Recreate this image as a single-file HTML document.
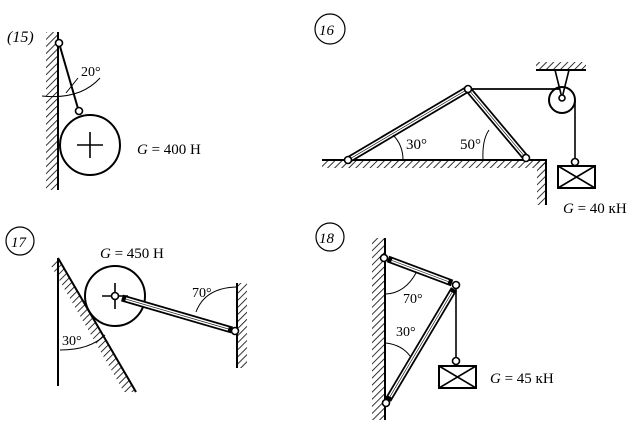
<!DOCTYPE html>
<html><head><meta charset="utf-8"><style>
html,body{margin:0;padding:0;background:#fff;}
svg{display:block;}
text{font-family:"Liberation Serif",serif;fill:#000;}
</style></head><body>
<svg width="643" height="430" viewBox="0 0 643 430" xmlns="http://www.w3.org/2000/svg">
<defs>
<pattern id="h" width="5" height="5" patternUnits="userSpaceOnUse" patternTransform="rotate(45)">
<line x1="0" y1="0" x2="0" y2="5" stroke="#000" stroke-width="1.6"/>
</pattern>
</defs>
<g stroke="#000" fill="none" stroke-width="1.6">
<!-- 15 -->
<rect x="46" y="32" width="12" height="158" fill="url(#h)" stroke="none"/>
<line x1="58" y1="32" x2="58" y2="190" stroke-width="2"/>
<line x1="59" y1="43" x2="79" y2="112" stroke-width="2"/>
<circle cx="90" cy="145" r="30" stroke-width="2"/>
<line x1="77" y1="145" x2="103" y2="145"/><line x1="90" y1="132" x2="90" y2="158"/>
<path d="M42 96 Q80 100 100 78" stroke-width="1"/>
<line x1="66" y1="93" x2="78" y2="78" stroke-width="1"/>
<circle cx="59" cy="43" r="3.5" fill="#fff"/>
<circle cx="79" cy="111" r="3.5" fill="#fff"/>
<!-- 16 -->
<circle cx="330" cy="29" r="15" stroke-width="1.2"/>
<rect x="322" y="160" width="225" height="8" fill="url(#h)" stroke="none"/>
<rect x="537" y="160" width="9" height="45" fill="url(#h)" stroke="none"/>
<polyline points="322,160 546,160 546,205" stroke-width="2"/>
<line x1="348" y1="160" x2="468" y2="89" stroke-width="7"/>
<line x1="351.4" y1="158" x2="464.6" y2="91" stroke="#fff" stroke-width="3.5"/>
<line x1="351.4" y1="158" x2="464.6" y2="91" stroke-width="0.6"/>
<line x1="468" y1="89" x2="526" y2="158" stroke-width="7"/>
<line x1="470.6" y1="92.1" x2="523.4" y2="154.9" stroke="#fff" stroke-width="3.5"/>
<line x1="470.6" y1="92.1" x2="523.4" y2="154.9" stroke-width="0.6"/>
<line x1="468" y1="89" x2="560" y2="89" stroke-width="1.8"/>
<rect x="536" y="62" width="50" height="8" fill="url(#h)" stroke="none"/>
<line x1="536" y1="70" x2="586" y2="70" stroke-width="2"/>
<path d="M555 70 L562 98 L569 70"/>
<circle cx="562" cy="100" r="13" stroke-width="2"/>
<circle cx="562" cy="98" r="3" fill="#fff"/>
<line x1="575" y1="100" x2="575" y2="160" stroke-width="1.6"/>
<rect x="558" y="166" width="37" height="22" stroke-width="2"/>
<path d="M558 166 L595 188 M595 166 L558 188"/>
<path d="M393 135 Q403 145 403 160" stroke-width="1"/>
<path d="M489 130 Q482 140 483 160" stroke-width="1"/>
<circle cx="348" cy="160" r="3.5" fill="#fff"/>
<circle cx="468" cy="89" r="3.5" fill="#fff"/>
<circle cx="526" cy="158" r="3.5" fill="#fff"/>
<circle cx="575" cy="162" r="3.5" fill="#fff"/>
<!-- 17 -->
<circle cx="20" cy="241" r="14" stroke-width="1.2"/>
<line x1="58" y1="258" x2="58" y2="386" stroke-width="2"/>
<polygon points="58,258 136,392 124,392 50,264" fill="url(#h)" stroke="none"/>
<line x1="58" y1="258" x2="136" y2="392" stroke-width="2"/>
<circle cx="115" cy="296" r="30" stroke-width="2"/>
<line x1="102" y1="296" x2="128" y2="296"/><line x1="115" y1="283" x2="115" y2="309"/>
<line x1="122" y1="298" x2="232" y2="330" stroke-width="7"/>
<line x1="125.8" y1="299.1" x2="228.2" y2="328.9" stroke="#fff" stroke-width="3.5"/>
<line x1="125.8" y1="299.1" x2="228.2" y2="328.9" stroke-width="0.6"/>
<rect x="237" y="283" width="10" height="85" fill="url(#h)" stroke="none"/>
<line x1="237" y1="283" x2="237" y2="368" stroke-width="2"/>
<path d="M196 312 Q205 288 236 287" stroke-width="1"/>
<path d="M60 350 Q90 350 105 335" stroke-width="1"/>
<circle cx="115" cy="296" r="3.5" fill="#fff"/>
<circle cx="235" cy="331" r="3.5" fill="#fff"/>
<!-- 18 -->
<circle cx="330" cy="237" r="14" stroke-width="1.2"/>
<rect x="372" y="238" width="13" height="182" fill="url(#h)" stroke="none"/>
<line x1="385" y1="238" x2="385" y2="420" stroke-width="2"/>
<line x1="388" y1="259" x2="452" y2="283" stroke-width="7"/>
<line x1="391.7" y1="260.4" x2="448.3" y2="281.6" stroke="#fff" stroke-width="3.5"/>
<line x1="391.7" y1="260.4" x2="448.3" y2="281.6" stroke-width="0.6"/>
<line x1="388" y1="400" x2="454" y2="289" stroke-width="7"/>
<line x1="390" y1="396.6" x2="452" y2="292.4" stroke="#fff" stroke-width="3.5"/>
<line x1="390" y1="396.6" x2="452" y2="292.4" stroke-width="0.6"/>
<line x1="456" y1="285" x2="456" y2="360" stroke-width="1.6"/>
<rect x="439" y="366" width="37" height="22" stroke-width="2"/>
<path d="M439 366 L476 388 M476 366 L439 388"/>
<path d="M386 294 Q405 293 416 273" stroke-width="1"/>
<path d="M386 343 Q402 345 410 356" stroke-width="1"/>
<circle cx="384" cy="258" r="3.5" fill="#fff"/>
<circle cx="456" cy="285" r="3.5" fill="#fff"/>
<circle cx="386" cy="403" r="3.5" fill="#fff"/>
<circle cx="456" cy="361" r="3.5" fill="#fff"/>
</g>
<g font-size="15">
<text x="7" y="42" font-style="italic" font-size="16">(15)</text>
<text x="81" y="76" font-size="14">20°</text>
<text x="137" y="154"><tspan font-style="italic">G</tspan> = 400 H</text>
<text x="319" y="35" font-style="italic" font-size="15">16</text>
<text x="406" y="149">30°</text>
<text x="460" y="149">50°</text>
<text x="563" y="213"><tspan font-style="italic">G</tspan> = 40 кН</text>
<text x="11" y="247" font-style="italic" font-size="15">17</text>
<text x="100" y="258"><tspan font-style="italic">G</tspan> = 450 H</text>
<text x="192" y="297" font-size="14">70°</text>
<text x="62" y="345" font-size="14">30°</text>
<text x="319" y="243" font-style="italic" font-size="15">18</text>
<text x="403" y="303" font-size="14">70°</text>
<text x="396" y="336" font-size="14">30°</text>
<text x="490" y="383"><tspan font-style="italic">G</tspan> = 45 кН</text>
</g>
</svg>
</body></html>
